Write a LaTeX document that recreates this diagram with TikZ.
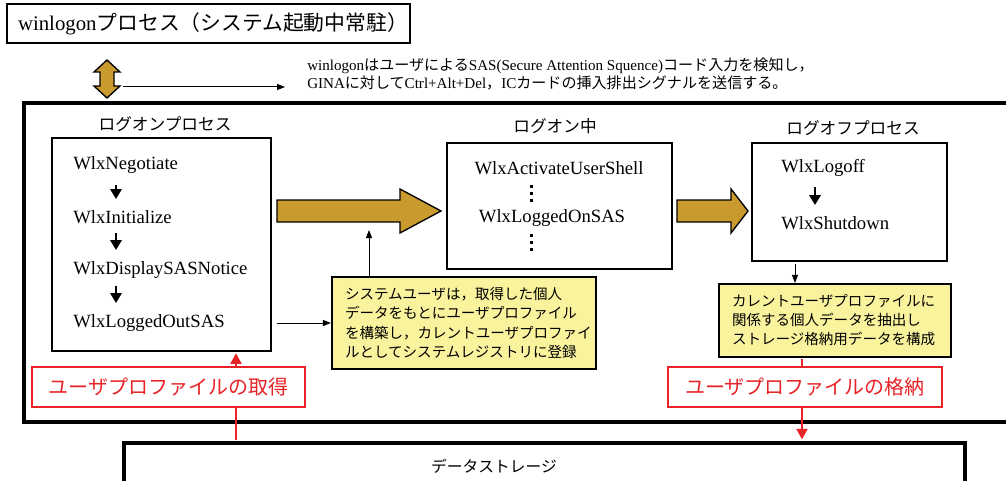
\documentclass[tikz,border=0pt]{standalone}
\usepackage{fontspec}
\setmainfont{Liberation Serif}
\newfontfamily\jp{Noto Sans CJK JP}
\usetikzlibrary{fit,arrows.meta,calc}
\definecolor{gold}{RGB}{201,154,46}
\definecolor{yel}{RGB}{250,243,158}
\definecolor{jred}{RGB}{232,36,40}
\begin{document}
\begin{tikzpicture}[x=0.75pt,y=-0.75pt,
 box/.style={draw, line width=1.2pt, inner sep=0pt, rectangle},
 wlx/.style={font=\fontsize{14}{16}\selectfont, anchor=west, inner sep=0pt},
 lbl/.style={font=\jp\fontsize{12.5}{15}\selectfont, inner sep=0pt},
 ybox/.style={draw, line width=1.6pt, fill=yel, inner sep=0pt, align=left},
 rbox/.style={draw=jred, line width=1pt, fill=white, text=jred, inner sep=0pt, font=\jp\fontsize{15}{18}\selectfont, minimum height=30pt},
 garrow/.style={draw=black, line width=1pt, fill=gold, line join=miter},
 stepar/.style={-{Triangle[width=8.5pt,length=7.5pt]}, line width=2.2pt},
 thinar/.style={-{Triangle[width=4.5pt,length=6pt]}, line width=0.75pt},
 redar/.style={draw=jred, line width=2.2pt},
 vdotsline/.style={line width=2.25pt, dash pattern=on 2.25pt off 3pt}
]
\clip (0,0) rectangle (1006,481);
\fill[white] (0,0) rectangle (1006,481);

% title
\node[box, line width=1.5pt, fit={(7,4) (410,43)}] (title) {};
\node[inner sep=0pt, font=\fontsize{15.6}{18}\selectfont] (titletext) at (213,24) {winlogon{\jp プロセス（システム起動中常駐）}};

% double arrow
\draw[garrow] (107,60) -- (120,72) -- (114,72) -- (114,86) -- (120,86) -- (107,98) -- (94,86) -- (100,86) -- (100,72) -- (94,72) -- cycle;

% description
\coordinate (da) at (123,87);
\coordinate (db) at (285,87);
\draw[thinar] (da) -- (db);
\node[anchor=north west, inner sep=0pt, align=left, font=\fontsize{11.3}{13.5}\selectfont] (desc) at (307,58)
 {winlogon{\jp はユーザによる}SAS(Secure Attention Squence){\jp コード入力を検知し，}\\GINA{\jp に対して}Ctrl+Alt+Del{\jp ，}IC{\jp カードの挿入排出シグナルを送信する。}};

% big frame
\node[box, line width=3pt, fit={(24,103) (1015,422)}] (bb) {};

% logon process
\node[lbl] (lbl1) at (165,124) {ログオンプロセス};
\node[box, fit={(52,138) (271,351)}] (lb) {};
\node[wlx] (w1) at (73,165) {WlxNegotiate};
\node[wlx] (w2) at (73,217) {WlxInitialize};
\node[wlx] (w3) at (73,270) {WlxDisplaySASNotice};
\node[wlx] (w4) at (73,323) {WlxLoggedOutSAS};
\draw[stepar] (116,185) -- (116,199);
\draw[stepar] (116,233) -- (116,250);
\draw[stepar] (116,286) -- (116,303);

% gold arrows
\draw[garrow] (277,200) -- (400,200) -- (400,189) -- (441,211) -- (400,233) -- (400,222) -- (277,222) -- cycle;
\draw[garrow] (677,200) -- (731,200) -- (731,189) -- (748,211) -- (731,233) -- (731,222) -- (677,222) -- cycle;

% logged on
\node[lbl] (ml) at (555,126) {ログオン中};
\node[box, fit={(447,143) (672,269)}] (mb) {};
\node[wlx, anchor=center] (m1) at (559,168) {WlxActivateUserShell};
\node[wlx, anchor=center] (m2) at (552,218) {WlxLoggedOnSAS};
\draw[vdotsline] (531,185) -- (531,203);
\draw[vdotsline] (531,234) -- (531,252);

% logoff
\node[lbl] (ol) at (853,128) {ログオフプロセス};
\node[box, fit={(752,143) (947,261)}] (lo) {};
\node[wlx] (o1) at (781,168) {WlxLogoff};
\node[wlx] (o2) at (781,223) {WlxShutdown};
\draw[stepar] (815,187) -- (815,205);

% yellow boxes
\node[ybox, minimum width=198pt, minimum height=69pt, text width=178.5pt, font=\jp\fontsize{10.9}{14.4}\selectfont] (y1) at (464,323)
 {システムユーザは，取得した個人\\データをもとにユーザプロファイル\\を構築し，カレントユーザプロファイ\\ルとしてシステムレジストリに登録};
\node[ybox, minimum width=174pt, minimum height=54.75pt, text width=154.5pt, font=\jp\fontsize{10.9}{14.3}\selectfont] (y2) at (835,320.5)
 {カレントユーザプロファイルに\\関係する個人データを抽出し\\ストレージ格納用データを構成};

\draw[thinar] ([xshift=3.75pt]lb.east |- y1.west) -- (y1.west);
\coordinate (up) at (369,230);
\draw[thinar] (y1.north -| up) -- (up);
\coordinate (a2) at (795,0);
\draw[thinar] ([yshift=-1.5pt]lo.south -| a2) -- (y2.north -| a2);

% storage
\node[box, line width=2.6pt, fit={(124,443) (965,530)}] (st) {};
\node[inner sep=0pt, font=\jp\fontsize{11.8}{14}\selectfont] (sttext) at (494,466) {データストレージ};

% red connectors
\coordinate (rl) at (236,0);
\coordinate (rr) at (802,0);
\draw[redar, -{Triangle[width=8pt,length=8pt]}] ([yshift=1.3pt]st.north -| rl) -- ([yshift=-1pt]lb.south -| rl);
\draw[redar, -{Triangle[width=8pt,length=8pt]}] ([yshift=-0.8pt]y2.south -| rr) -- ([yshift=1.3pt]st.north -| rr);

\node[rbox, minimum width=204.75pt] (r1) at (168.5,387) {ユーザプロファイルの取得};
\node[rbox, minimum width=205.5pt] (r2) at (805,387) {ユーザプロファイルの格納};
\end{tikzpicture}
\end{document}
